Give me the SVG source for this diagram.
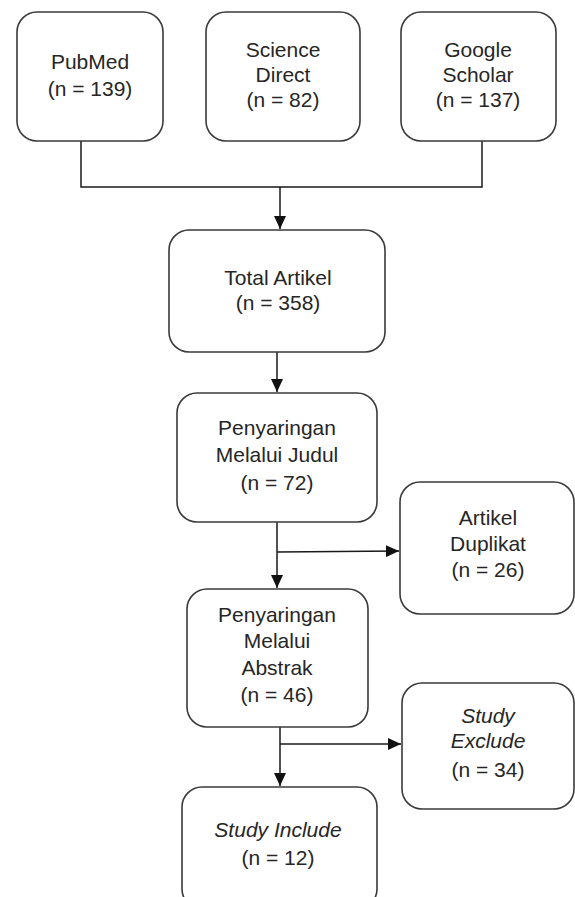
<svg xmlns="http://www.w3.org/2000/svg" width="575" height="897" viewBox="0 0 575 897">
<defs>
<style>
.box{fill:#fff;stroke:#3a3a3a;stroke-width:1.6}
.t{font-family:"Liberation Sans",Arial,sans-serif;font-size:21px;fill:#262626;text-anchor:middle}
.i{font-style:italic}
.c{fill:none;stroke:#1a1a1a;stroke-width:1.5}
</style>
<marker id="ah" markerWidth="14" markerHeight="12" refX="13" refY="6" orient="auto" markerUnits="userSpaceOnUse">
<path d="M0,0 L13,6 L0,12 Z" fill="#111"/>
</marker>
</defs>
<rect width="575" height="897" fill="#fff"/>
<g id="connectors">
<polyline class="c" points="81,141 81,187 482,187 482,141"/>
<line class="c" x1="280" y1="187" x2="280" y2="229" marker-end="url(#ah)"/>
<line class="c" x1="277" y1="352" x2="277" y2="392" marker-end="url(#ah)"/>
<line class="c" x1="277" y1="522" x2="277" y2="588" marker-end="url(#ah)"/>
<line class="c" x1="277" y1="552" x2="399" y2="551" marker-end="url(#ah)"/>
<line class="c" x1="280" y1="727" x2="280" y2="786" marker-end="url(#ah)"/>
<line class="c" x1="280" y1="744" x2="401" y2="744" marker-end="url(#ah)"/>
</g>
<g id="pubmed">
<rect class="box" x="17" y="12" width="146" height="129" rx="20"/>
<text class="t" x="90" y="69">PubMed</text>
<text class="t" x="90" y="96">(n = 139)</text>
</g>
<g id="sciencedirect">
<rect class="box" x="206" y="12" width="154" height="129" rx="20"/>
<text class="t" x="283" y="57">Science</text>
<text class="t" x="283" y="82">Direct</text>
<text class="t" x="283" y="107">(n = 82)</text>
</g>
<g id="googlescholar">
<rect class="box" x="401" y="12" width="155" height="129" rx="20"/>
<text class="t" x="478" y="57">Google</text>
<text class="t" x="478" y="82">Scholar</text>
<text class="t" x="478" y="107">(n = 137)</text>
</g>
<g id="total">
<rect class="box" x="169" y="230" width="216" height="122" rx="20"/>
<text class="t" x="278" y="285">Total Artikel</text>
<text class="t" x="278" y="310">(n = 358)</text>
</g>
<g id="judul">
<rect class="box" x="177" y="393" width="200" height="129" rx="20"/>
<text class="t" x="277" y="435">Penyaringan</text>
<text class="t" x="277" y="462">Melalui Judul</text>
<text class="t" x="277" y="490">(n = 72)</text>
</g>
<g id="duplikat">
<rect class="box" x="400" y="482" width="174" height="132" rx="20"/>
<text class="t" x="488" y="525">Artikel</text>
<text class="t" x="488" y="551">Duplikat</text>
<text class="t" x="488" y="577">(n = 26)</text>
</g>
<g id="abstrak">
<rect class="box" x="187" y="589" width="181" height="138" rx="20"/>
<text class="t" x="277" y="622">Penyaringan</text>
<text class="t" x="277" y="648">Melalui</text>
<text class="t" x="277" y="675">Abstrak</text>
<text class="t" x="277" y="702">(n = 46)</text>
</g>
<g id="exclude">
<rect class="box" x="402" y="683" width="172" height="126" rx="20"/>
<text class="t i" x="488" y="723">Study</text>
<text class="t i" x="488" y="748">Exclude</text>
<text class="t" x="488" y="777">(n = 34)</text>
</g>
<g id="include">
<rect class="box" x="182" y="787" width="195" height="122" rx="20"/>
<text class="t i" x="278" y="837">Study Include</text>
<text class="t" x="278" y="865">(n = 12)</text>
</g>
</svg>
